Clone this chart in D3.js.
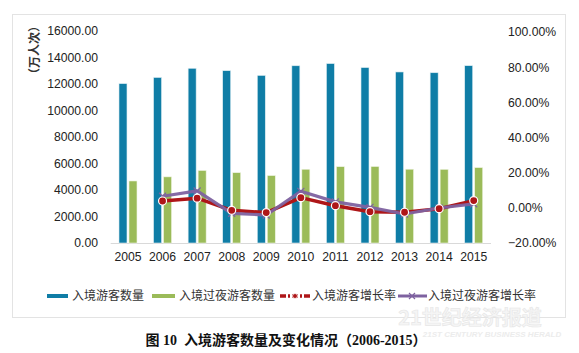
<!DOCTYPE html>
<html><head><meta charset="utf-8">
<script src="https://cdn.jsdelivr.net/npm/d3@7"></script>
<style>
body{margin:0;background:#fff;}
svg{display:block;}
</style></head>
<body>
<script>
const years = ["2005","2006","2007","2008","2009","2010","2011","2012","2013","2014","2015"];
const inbound = [12029, 12494, 13187, 13003, 12648, 13376, 13542, 13241, 12908, 12850, 13382];
const overnight = [4681, 4991, 5472, 5305, 5088, 5566, 5758, 5772, 5569, 5562, 5689];
const inboundGrowth = [null, 3.9, 5.5, -1.4, -2.7, 5.8, 1.2, -2.2, -2.5, -0.5, 4.1];
const overnightGrowth = [null, 6.6, 9.6, -3.1, -4.1, 9.4, 3.4, 0.3, -3.5, -0.1, 2.3];
const leftTicks = [0, 2000, 4000, 6000, 8000, 10000, 12000, 14000, 16000];
const rightTicks = [-20, 0, 20, 40, 60, 80, 100];
const seriesNames = ["入境游客数量", "入境过夜游客数量", "入境游客增长率", "入境过夜游客增长率"];
const colors = {blue:"#0F7DA6", green:"#9BBB59", red:"#AE1618", purple:"#7E62A0"};

const W = 579, H = 353;
const svg = d3.select("body").append("svg").attr("width", W).attr("height", H);
const font = "'Liberation Sans', Arial, sans-serif";
const cjk = "'Liberation Sans', 'Noto Sans CJK SC', sans-serif";

// chart frame
svg.append("rect").attr("x", 12.5).attr("y", 14.5).attr("width", 553).attr("height", 303)
  .attr("fill", "#fff").attr("stroke", "#e3e3e3").attr("stroke-width", 1);

const x = d3.scaleBand().domain(years).range([110.7, 491]).padding(0);
const yL = d3.scaleLinear().domain([0, 16000]).range([243, 31]);
const yR = d3.scaleLinear().domain([-20, 100]).range([243, 32]);

// left axis
const axL = svg.append("g").attr("transform", "translate(104,0)")
  .call(d3.axisLeft(yL).tickValues(leftTicks).tickFormat(d => d3.format(".2f")(d)).tickSize(0).tickPadding(6));
axL.select(".domain").remove();
axL.selectAll("text").attr("font-family", font).attr("font-size", 12.2).attr("fill", "#222");

// right axis
const axR = svg.append("g").attr("transform", "translate(502,0)")
  .call(d3.axisRight(yR).tickValues(rightTicks).tickFormat(d => d3.format(".2f")(d) + "%").tickSize(0).tickPadding(6));
axR.select(".domain").remove();
axR.selectAll("text").attr("font-family", font).attr("font-size", 12.2).attr("fill", "#222");

// bottom axis
const axB = svg.append("g").attr("transform", "translate(0,243)")
  .call(d3.axisBottom(x).tickSize(0).tickPadding(9));
axB.select(".domain").attr("stroke", "#d9d9d9").attr("d", "M110.7,0.5H491");
axB.selectAll("text").attr("font-family", font).attr("font-size", 12.2).attr("fill", "#222");

// y-axis title
svg.append("text").attr("transform", "translate(33,50) rotate(-90)")
  .attr("text-anchor", "middle").attr("dominant-baseline", "central")
  .attr("font-family", "'Noto Sans CJK SC', sans-serif").attr("font-size", 12).attr("font-weight", "bold")
  .attr("fill", "#333").text("（万人次）");

// bars
const bw = 8;
svg.append("g").selectAll("rect").data(years).join("rect")
  .attr("x", d => x(d) + x.bandwidth()/2 - 9).attr("width", bw)
  .attr("y", (d,i) => yL(inbound[i])).attr("height", (d,i) => yL(0) - yL(inbound[i]))
  .attr("fill", colors.blue).attr("stroke", "#dfeef3").attr("stroke-width", 0.6);
svg.append("g").selectAll("rect").data(years).join("rect")
  .attr("x", d => x(d) + x.bandwidth()/2 + 1).attr("width", bw)
  .attr("y", (d,i) => yL(overnight[i])).attr("height", (d,i) => yL(0) - yL(overnight[i]))
  .attr("fill", colors.green).attr("stroke", "#eef4e2").attr("stroke-width", 0.6);

// lines
const cx = d => x(d) + x.bandwidth()/2;
const ptsRed = years.map((d,i) => [d, inboundGrowth[i]]).filter(p => p[1] !== null);
const ptsPur = years.map((d,i) => [d, overnightGrowth[i]]).filter(p => p[1] !== null);
const line = d3.line().x(p => cx(p[0])).y(p => yR(p[1]));

svg.append("path").datum(ptsRed).attr("d", line).attr("fill", "none")
  .attr("stroke", colors.red).attr("stroke-width", 3.5).attr("stroke-linejoin", "round");
svg.append("path").datum(ptsPur).attr("d", line).attr("fill", "none")
  .attr("stroke", colors.purple).attr("stroke-width", 3.2).attr("stroke-linejoin", "round").attr("opacity", 0.95);

// purple x markers
const xm = svg.append("g");
ptsPur.forEach(p => {
  const px = cx(p[0]), py = yR(p[1]), s = 3.5;
  xm.append("path").attr("d", `M${px-s},${py-s}L${px+s},${py+s}M${px-s},${py+s}L${px+s},${py-s}`)
    .attr("stroke", colors.purple).attr("stroke-width", 1.2);
});
// red markers
svg.append("g").selectAll("circle").data(ptsRed).join("circle")
  .attr("cx", p => cx(p[0])).attr("cy", p => yR(p[1])).attr("r", 4)
  .attr("fill", colors.red).attr("stroke", "#fff").attr("stroke-width", 1.2);

// legend
const lg = svg.append("g").attr("font-family", cjk).attr("font-size", 12).attr("fill", "#333");
const ly = 296;
lg.append("rect").attr("x", 47).attr("y", ly-2).attr("width", 21).attr("height", 4).attr("fill", colors.blue);
lg.append("text").attr("x", 72).attr("y", ly).attr("dominant-baseline", "central").text(seriesNames[0]);
lg.append("rect").attr("x", 152).attr("y", ly-2).attr("width", 23).attr("height", 4).attr("fill", colors.green);
lg.append("text").attr("x", 179).attr("y", ly).attr("dominant-baseline", "central").text(seriesNames[1]);
lg.append("line").attr("x1", 280).attr("x2", 310).attr("y1", ly).attr("y2", ly).attr("stroke", colors.red).attr("stroke-width", 3.5).attr("stroke-dasharray", "6,2,2,2");
lg.append("circle").attr("cx", 295).attr("cy", ly).attr("r", 2.5).attr("fill", colors.red).attr("stroke", "#fff").attr("stroke-width", 0.8);
lg.append("text").attr("x", 312).attr("y", ly).attr("dominant-baseline", "central").text(seriesNames[2]);
lg.append("line").attr("x1", 398).attr("x2", 427).attr("y1", ly).attr("y2", ly).attr("stroke", colors.purple).attr("stroke-width", 3);
lg.append("path").attr("d", `M409,${ly-3}L415,${ly+3}M409,${ly+3}L415,${ly-3}`).attr("stroke", colors.purple).attr("stroke-width", 1.2);
lg.append("text").attr("x", 428).attr("y", ly).attr("dominant-baseline", "central").text(seriesNames[3]);

// watermark
svg.append("text").attr("x", 470).attr("y", 325).attr("text-anchor", "middle")
  .attr("font-family", "'Noto Sans CJK SC', sans-serif").attr("font-size", 20).attr("font-weight", "bold")
  .attr("fill", "#f5f5f5").attr("stroke", "#e6e6e6").attr("stroke-width", 0.6).text("21世纪经济报道");
svg.append("text").attr("x", 492).attr("y", 337).attr("text-anchor", "middle")
  .attr("font-family", font).attr("font-size", 8).attr("font-style", "italic").attr("font-weight", "bold")
  .attr("fill", "#ececec").text("21ST CENTURY BUSINESS HERALD");

// title
svg.append("text").attr("x", 286).attr("y", 340).attr("text-anchor", "middle").attr("dominant-baseline", "central")
  .attr("font-family", "'Liberation Serif', 'Noto Sans CJK SC', serif").attr("font-size", 14).attr("font-weight", "bold")
  .attr("fill", "#111").text("图 10\u00A0\u00A0入境游客数量及变化情况（2006-2015）");
</script>
</body></html>
